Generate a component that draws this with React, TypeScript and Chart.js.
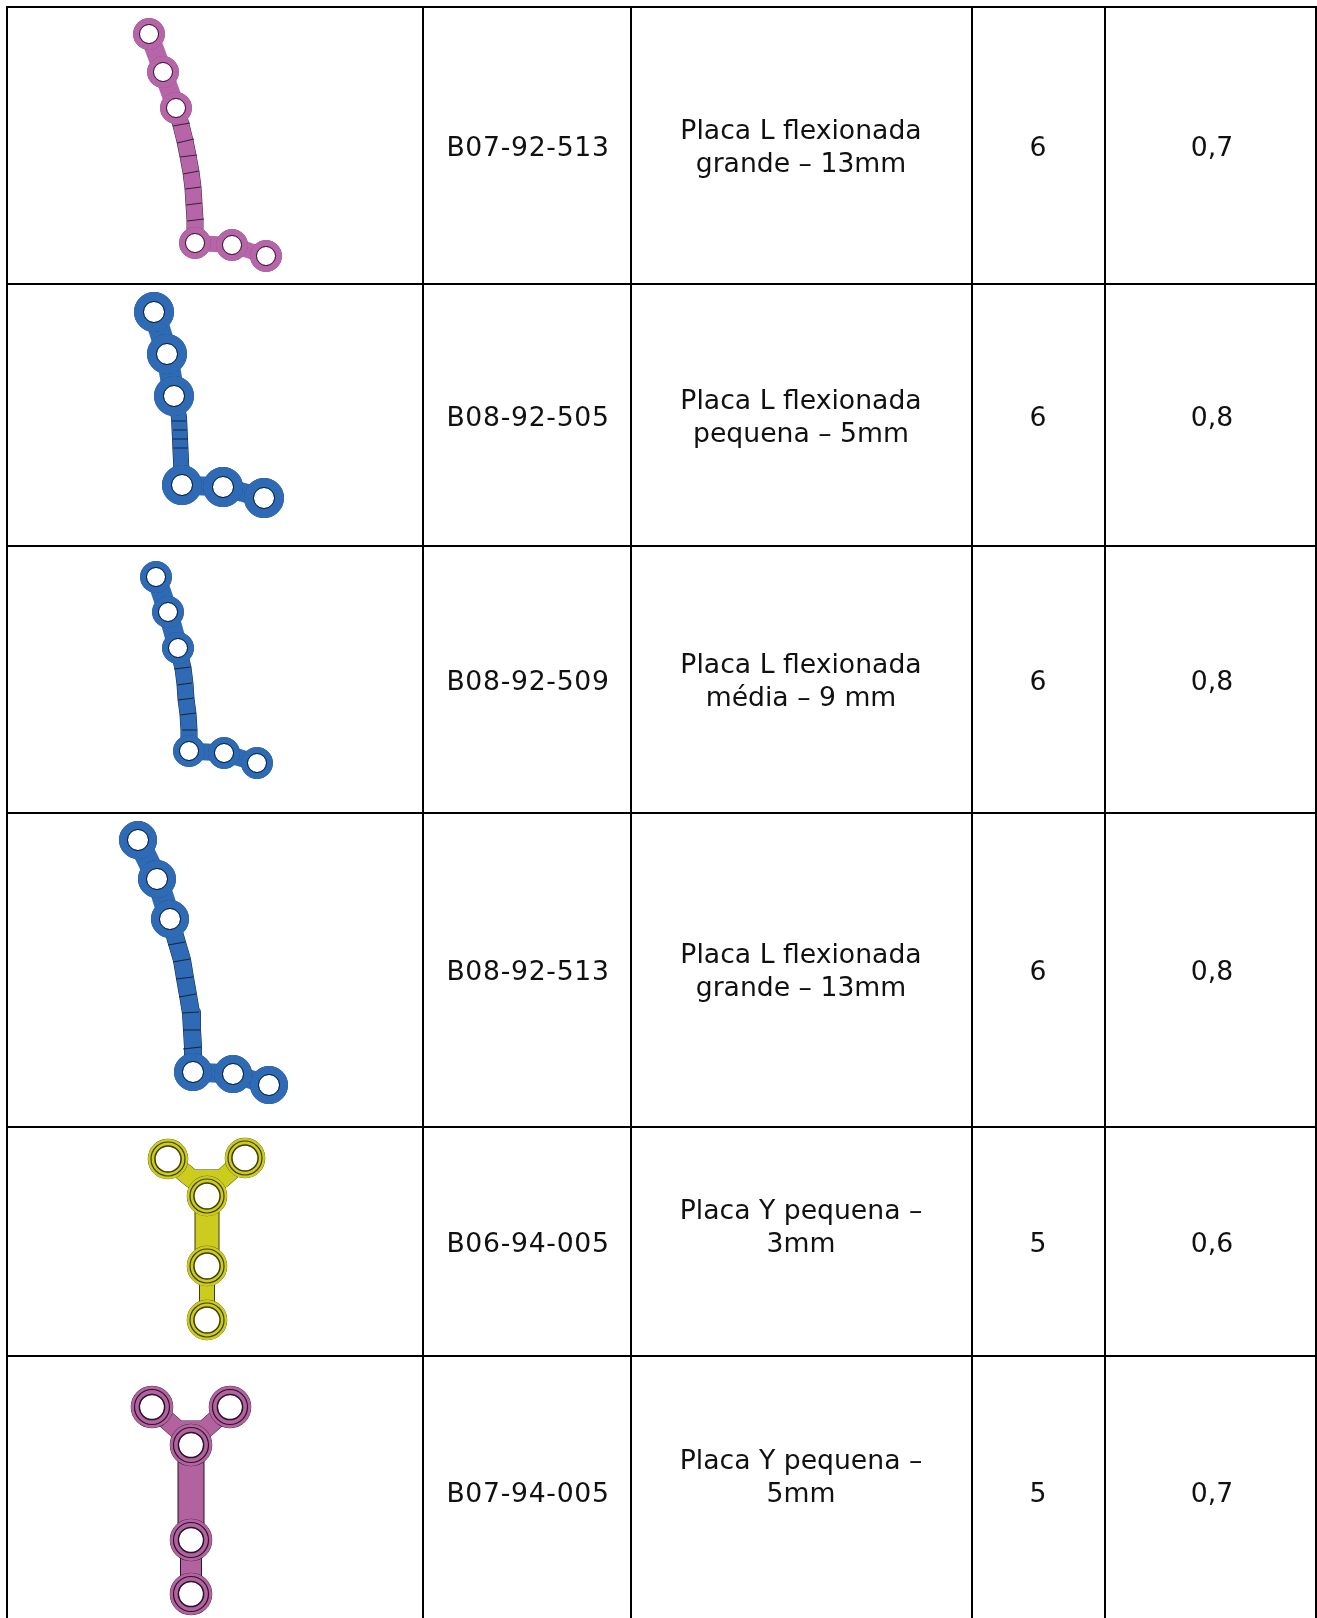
import React, { useEffect, useRef } from "react";
import { Chart, registerables } from "chart.js";

Chart.register(...registerables);

// Table structure, read in picture units
const columnEdges = [7, 423, 631, 972, 1105, 1316];
const rowEdges = [7, 284, 546, 813, 1127, 1356];
const columnCentres = [528, 801, 1038, 1212];
const rowCentres = [149, 419, 683, 973, 1245, 1495];
const nameRowCentres = [149, 419, 683, 973, 1229, 1479];

const codes = ["B07-92-513", "B08-92-505", "B08-92-509", "B08-92-513", "B06-94-005", "B07-94-005"];
const names = [
  ["Placa L flexionada", "grande – 13mm"],
  ["Placa L flexionada", "pequena – 5mm"],
  ["Placa L flexionada", "média – 9 mm"],
  ["Placa L flexionada", "grande – 13mm"],
  ["Placa Y pequena –", "3mm"],
  ["Placa Y pequena –", "5mm"],
];
const holeCounts = ["6", "6", "6", "6", "5", "5"];
const thickness = ["0,7", "0,8", "0,8", "0,8", "0,6", "0,7"];

// Plate outlines
const p1Holes = [[149, 34], [163, 72], [176, 108], [195, 243], [232, 245], [266, 256]];
const p1Path = [[176, 108], [181, 125], [185, 141], [188, 156], [191, 172], [193, 188], [194, 204], [195, 220], [195, 243]];
const p1Rungs = [[173, 126, 190, 123], [177, 143, 194, 139], [180, 157, 197, 155], [183, 174, 199, 171], [185, 189, 201, 187], [186, 205, 202, 203], [187, 221, 204, 219]];

const p2Holes = [[154, 312], [167, 354], [174, 396], [182, 485], [223, 487], [264, 498]];
const p2Path = [[174, 396], [179, 417], [181, 461], [182, 485]];
const p2Rungs = [[172, 421, 186, 421], [173, 430, 187, 430], [173, 439, 188, 439], [173, 448, 188, 448]];

const p3Holes = [[156, 577], [168, 612], [178, 648], [189, 751], [224, 753], [257, 763]];
const p3Path = [[178, 648], [183, 668], [185, 684], [186, 699], [188, 714], [189, 730], [189, 751]];
const p3Rungs = [[174, 669, 191, 667], [177, 685, 192, 683], [178, 700, 194, 698], [180, 715, 196, 713], [182, 730, 197, 730]];

const p4Holes = [[138, 840], [157, 879], [170, 919], [193, 1072], [233, 1074], [269, 1085]];
const p4Path = [[170, 919], [177, 943], [182, 960], [185, 978], [188, 995], [191, 1013], [192, 1030], [193, 1047], [193, 1072]];
const p4Rungs = [[168, 945, 185, 942], [173, 962, 190, 959], [176, 979, 193, 977], [179, 997, 196, 994], [182, 1013, 199, 1012], [183, 1030, 200, 1030], [183, 1049, 201, 1047]];

const p5Holes = [[168, 1159], [245, 1158], [207, 1196], [207, 1266], [207, 1320]];
const p5Arms = [[168, 1159], [192, 1179], [222, 1179], [245, 1158]];
const p5Shaft = [[207, 1196], [207, 1266]];
const p5Link = [[207, 1266], [207, 1320]];

const p6Holes = [[152, 1407], [230, 1407], [191, 1445], [191, 1540], [191, 1594]];
const p6Arms = [[152, 1407], [178, 1430], [204, 1430], [230, 1407]];
const p6Shaft = [[191, 1445], [191, 1540]];
const p6Link = [[191, 1540], [191, 1594]];

const toPts = (a: number[][]) => a.map(([x, y]) => ({ x, y }));

function stroke(points: number[][], color: string, width: number, order: number) {
  return {
    type: "scatter" as const,
    data: toPts(points),
    showLine: true,
    borderColor: color,
    borderWidth: width,
    borderCapStyle: "butt",
    borderJoinStyle: "round",
    pointRadius: 0,
    order,
  };
}

function rungs(list: number[][], color: string, order: number) {
  const data: any[] = [];
  list.forEach(([a, b, c, d]) => {
    data.push({ x: a, y: b }, { x: c, y: d }, { x: c, y: NaN });
  });
  return {
    type: "scatter" as const,
    data,
    showLine: true,
    spanGaps: false,
    borderColor: color,
    borderWidth: 1.2,
    pointRadius: 0,
    order,
  };
}

function rings(points: number[][], mid: number, width: number, fill: string, edge: string, order: number) {
  return {
    type: "scatter" as const,
    data: toPts(points),
    showLine: false,
    pointStyle: "circle",
    pointRadius: mid,
    pointBorderWidth: width,
    pointBackgroundColor: fill,
    pointBorderColor: edge,
    order,
  };
}

const NONE = "rgba(0,0,0,0)";

function holes(points: number[][], outer: number, inner: number, color: string, dark: string, line: number, base: number) {
  return [
    rings(points, outer - 0.5, line, NONE, dark, base),
    rings(points, (outer + inner) / 2, outer - inner, "#ffffff", color, base - 1),
    rings(points, inner + 0.6, line, NONE, dark, base - 2),
  ];
}

function lPlate(path: number[][], hs: number[][], rs: number[][], width: number, linkWidth: number, outer: number, inner: number, color: string, dark: string, base: number) {
  const top = hs.slice(0, 3);
  const bottom = hs.slice(3);
  return [
    stroke(path, dark, width + 1, base + 4),
    stroke(top, color, linkWidth, base + 3),
    stroke(bottom, color, linkWidth - 3, base + 3),
    stroke(path, color, width, base + 3),
    rungs(rs, dark, base + 2),
    ...holes(hs, outer, inner, color, dark, 1, base + 1),
  ];
}

function yPlate(arms: number[][], shaft: number[][], link: number[][], hs: number[][], widths: number[], outer: number, inner: number, band: number, color: string, dark: string, base: number) {
  return [
    stroke(arms, dark, widths[0] + 1, base + 4),
    stroke(shaft, dark, widths[1] + 2, base + 4),
    stroke(link, dark, widths[2] + 2, base + 4),
    stroke(arms, color, widths[0], base + 3),
    stroke(shaft, color, widths[1], base + 3),
    stroke(link, color, widths[2], base + 3),
    ...holes(hs, outer, inner, color, dark, 1.5, base + 1),
    rings(hs, band, 1.2, NONE, dark, base - 3),
  ];
}

const PINK = "#B666A8";
const BLUE = "#2F6BB5";
const YELLOW = "#CCCC1E";
const PURPLE = "#B2629F";

const tablePlugin = {
  id: "tableText",
  afterDatasetsDraw(chart: any) {
    const { ctx, scales } = chart;
    const px = (v: number) => scales.x.getPixelForValue(v);
    const py = (v: number) => scales.y.getPixelForValue(v);
    ctx.save();
    ctx.fillStyle = "#111111";
    ctx.font = "26.67px 'DejaVu Sans'";
    ctx.textAlign = "center";
    ctx.textBaseline = "middle";
    rowCentres.forEach((y, i) => {
      ctx.letterSpacing = "0.7px";
      ctx.fillText(codes[i], px(columnCentres[0]), py(y));
      ctx.letterSpacing = "0px";
      ctx.fillText(names[i][0], px(columnCentres[1]), py(nameRowCentres[i] - 16.5));
      ctx.fillText(names[i][1], px(columnCentres[1]), py(nameRowCentres[i] + 16));
      ctx.fillText(holeCounts[i], px(columnCentres[2]), py(y));
      ctx.fillText(thickness[i], px(columnCentres[3]), py(y));
    });
    ctx.restore();
  },
};

export default function App() {
  const ref = useRef<HTMLCanvasElement>(null);
  useEffect(() => {
    const datasets: any[] = [
      ...lPlate(p1Path, p1Holes, p1Rungs, 16, 19, 16, 9, PINK, "#3a2338", 10),
      ...lPlate(p2Path, p2Holes, p2Rungs, 15, 22, 20, 10, BLUE, "#12263f", 20),
      ...lPlate(p3Path, p3Holes, p3Rungs, 16, 20, 16, 9, BLUE, "#12263f", 30),
      ...lPlate(p4Path, p4Holes, p4Rungs, 17, 22, 19, 10, BLUE, "#12263f", 40),
      ...yPlate(p5Arms, p5Shaft, p5Link, p5Holes, [18, 23, 14], 20, 12.5, 17, YELLOW, "#3e3e10", 50),
      ...yPlate(p6Arms, p6Shaft, p6Link, p6Holes, [18, 25, 20], 21, 12, 17.5, PURPLE, "#2a1526", 60),
    ];
    const chart = new Chart(ref.current!, {
      type: "scatter",
      data: { datasets },
      plugins: [tablePlugin],
      options: {
        animation: false,
        responsive: false,
        layout: { autoPadding: false, padding: { left: columnEdges[0] - 1, top: rowEdges[0] - 1, right: 0, bottom: 0 } },
        plugins: { legend: { display: false }, tooltip: { enabled: false } },
        scales: {
          x: {
            type: "linear",
            min: columnEdges[0] - 1,
            max: 1317,
            afterBuildTicks: (s: any) => { s.ticks = columnEdges.map((value) => ({ value })); },
            ticks: { display: false },
            grid: { color: "#000000", lineWidth: 2, drawTicks: false },
            border: { display: false },
          },
          y: {
            type: "linear",
            reverse: true,
            min: rowEdges[0] - 1,
            max: 1618,
            afterBuildTicks: (s: any) => { s.ticks = rowEdges.map((value) => ({ value })); },
            ticks: { display: false },
            grid: { color: "#000000", lineWidth: 2, drawTicks: false },
            border: { display: false },
          },
        },
      } as any,
    });
    return () => chart.destroy();
  }, []);
  return (
    <div style={{ position: "absolute", left: 0, top: 0, width: 1317, height: 1618, background: "#fff" }}>
      <canvas ref={ref} width={1317} height={1618} style={{ display: "block" }} />
    </div>
  );
}
